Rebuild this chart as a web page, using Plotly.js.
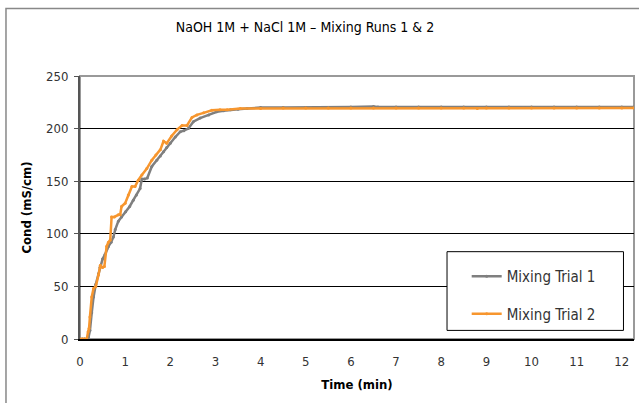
<!DOCTYPE html>
<html>
<head>
<meta charset="utf-8">
<script src="https://cdn.plot.ly/plotly-3.0.1.min.js"></script>
<style>html,body{margin:0;padding:0;background:#fff;}#chart{width:639px;height:403px;}</style>
</head>
<body>
<div id="chart"></div>
<script>
// Trial 1 (gray)
const time1 = [0, 0.05, 0.1, 0.15, 0.19, 0.22, 0.26, 0.3, 0.35, 0.41, 0.44, 0.5, 0.55, 0.59, 0.63, 0.69, 0.74, 0.78, 0.85, 0.92, 1.01, 1.1, 1.18, 1.25, 1.33, 1.37, 1.43, 1.49, 1.59, 1.7, 1.78, 1.85, 1.92, 2.0, 2.11, 2.22, 2.3, 2.4, 2.51, 2.66, 2.85, 3.03, 3.18, 3.33, 3.5, 3.7, 4.0, 4.5, 5.0, 5.5, 6.0, 6.5, 6.6, 7.0, 7.5, 8.0, 8.5, 9.0, 9.5, 10.0, 10.5, 11.0, 11.5, 12.0, 12.27];
const cond1 = [0, 0, 0, 0, 2, 8, 25, 40, 52, 62, 68, 76, 80, 85, 88, 92, 97, 104, 112, 116, 121, 126, 132, 137, 143, 152, 152, 153, 164, 170, 174, 178, 182, 186, 192, 197, 198, 200, 206.5, 210, 213, 216, 217, 218, 218.5, 219, 220, 220, 220, 220, 220.5, 221, 220.5, 220.5, 220.5, 220.5, 220.5, 220.5, 220.5, 220.5, 220.5, 220.5, 220.5, 220.5, 220.5];
// Trial 2 (orange)
const time2 = [0, 0.05, 0.1, 0.15, 0.18, 0.2, 0.22, 0.26, 0.3, 0.35, 0.41, 0.45, 0.5, 0.54, 0.59, 0.63, 0.67, 0.7, 0.76, 0.85, 0.89, 0.92, 1.0, 1.07, 1.15, 1.22, 1.29, 1.37, 1.48, 1.59, 1.68, 1.78, 1.85, 1.92, 2.03, 2.15, 2.26, 2.37, 2.48, 2.59, 2.74, 2.92, 3.1, 3.26, 3.55, 4.0, 4.5, 5.0, 5.5, 6.0, 6.5, 7.0, 7.5, 8.0, 8.5, 8.8, 9.0, 9.5, 10.0, 10.5, 11.0, 11.5, 12.0, 12.27];
const cond2 = [0, 0, 0, 0, 7, 10, 21, 40, 48, 50, 61, 70, 68, 69, 88, 92, 94, 116, 116, 118, 118, 126, 129, 137, 145, 145, 151, 156, 162, 170, 175, 180, 188, 186, 193, 199, 203, 203, 210.6, 213, 215, 217.5, 218, 218, 219, 219, 219.5, 219.5, 219.5, 219.5, 219.5, 219.5, 219.5, 219.5, 219.5, 219, 219.5, 219.5, 219.5, 219.5, 219.5, 219.5, 219.5, 219.5];
const seriesNames = ["Mixing Trial 1", "Mixing Trial 2"];
const xTickVals = [0,1,2,3,4,5,6,7,8,9,10,11,12];
const yTickVals = [0,50,100,150,200,250];

const FONT = "'Liberation Sans Narrow', 'DejaVu Sans Condensed', 'Arial Narrow', sans-serif";

const traces = [
  {x: time1, y: cond1, name: seriesNames[0], type: 'scatter', mode: 'lines+markers',
   line: {color: '#7f7f7f', width: 2.5}, marker: {color: '#7f7f7f', size: 3}, legendgroup: 'a'},
  {x: time2, y: cond2, name: seriesNames[1], type: 'scatter', mode: 'lines+markers',
   line: {color: '#f7962e', width: 2.5}, marker: {color: '#f7962e', size: 3}, legendgroup: 'b'}
];

const layout = {
  width: 639, height: 403,
  margin: {l: 80, r: 5, t: 76, b: 64},
  paper_bgcolor: '#fff', plot_bgcolor: '#fff',
  font: {family: FONT, color: '#333', size: 13},
  title: {text: 'NaOH 1M + NaCl 1M \u2013 Mixing Runs 1 &amp; 2', x: 305/639, xref: 'container', xanchor: 'center',
          y: 1 - 27/403, yref: 'container', yanchor: 'middle', font: {family: FONT, size: 14, color: '#000'}},
  xaxis: {range: [0, 12.27], tickvals: xTickVals, showgrid: false, zeroline: false,
          showline: true, linecolor: '#000', linewidth: 1.5, ticks: '', ticklabelstandoff: 10,
          tickfont: {family: FONT, size: 13, color: '#333'},
          title: {text: '<b>Time (min)</b>', font: {family: FONT, size: 13, color: '#000'}, standoff: 12}},
  yaxis: {range: [0, 250], tickvals: yTickVals, showgrid: true, gridcolor: '#000', gridwidth: 1,
          zeroline: false, showline: true, linecolor: '#555', linewidth: 2,
          ticks: 'outside', ticklen: 4, tickcolor: '#555', ticklabelstandoff: 3,
          tickfont: {family: FONT, size: 13, color: '#333'},
          title: {text: '<b>Cond (mS/cm)</b>', font: {family: FONT, size: 13, color: '#000'}, standoff: 12}},
  showlegend: true,
  legend: {x: 0.698, y: 0.30, xanchor: 'left', yanchor: 'top', bgcolor: 'rgba(0,0,0,0)',
           borderwidth: 0, traceorder: 'grouped', tracegroupgap: 15,
           font: {family: FONT, size: 15, color: '#333'}},
  shapes: [
    {type: 'rect', xref: 'paper', yref: 'paper', x0: -0.1336, x1: 1.2, y0: -0.5, y1: 1.2568,
     line: {color: '#888', width: 1.5}, fillcolor: 'rgba(0,0,0,0)', layer: 'below'},
    {type: 'rect', xref: 'paper', yref: 'paper', x0: 0, x1: 1, y0: 0, y1: 1,
     line: {color: '#999', width: 2}, fillcolor: 'rgba(0,0,0,0)', layer: 'below'},
    {type: 'rect', xref: 'paper', yref: 'paper', x0: 0.6625, x1: 0.981, y0: 0.0327, y1: 0.332,
     line: {color: '#000', width: 1}, fillcolor: '#fff', layer: 'above'}
  ]
};

Plotly.newPlot('chart', traces, layout, {displayModeBar: false, staticPlot: true});
</script>
</body>
</html>
